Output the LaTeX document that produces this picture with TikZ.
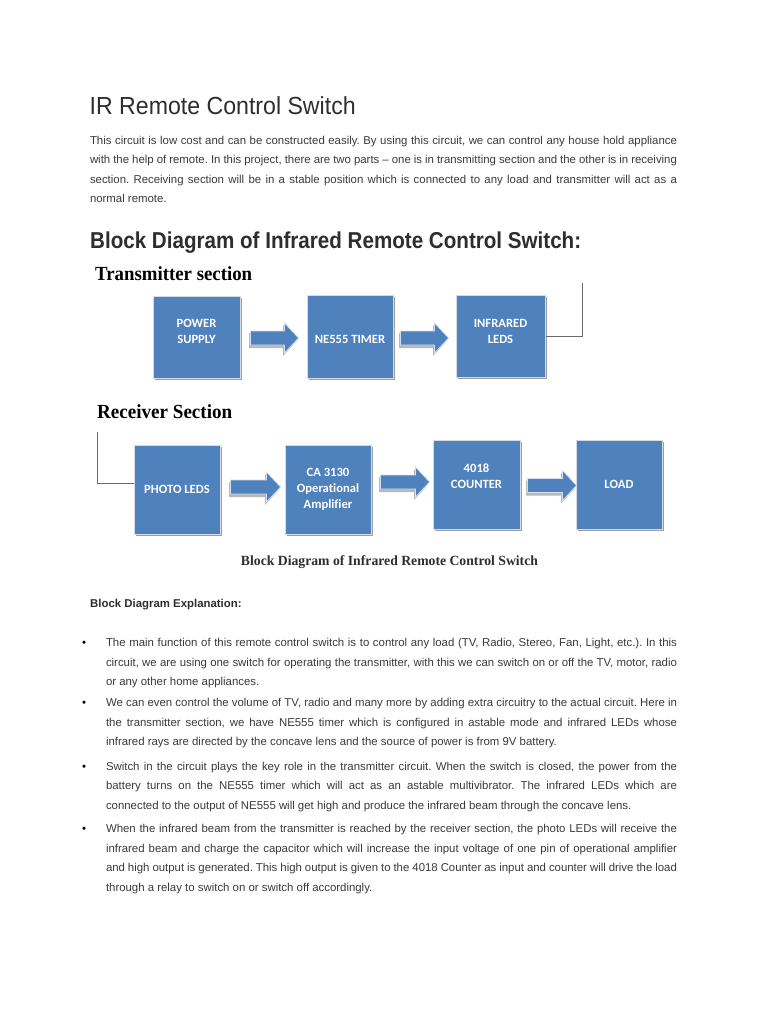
\documentclass[tikz,border=0pt]{standalone}
\usepackage{fontspec}
\usepackage{graphicx}
\setmainfont{Liberation Sans}
\newfontfamily\serifb{Liberation Serif}
\newfontfamily\calib{Carlito}[Ligatures=NoCommon]
\usetikzlibrary{calc,shadows}
\definecolor{boxblue}{HTML}{4F81BD}
\definecolor{boxedge}{HTML}{D5DCE6}
\definecolor{txt}{HTML}{3A3A3A}
\definecolor{ttl}{HTML}{2E2E2E}
\definecolor{wirec}{HTML}{6A6A6A}
\frenchspacing
\tikzset{
  tline/.style={anchor=base west, inner sep=0pt, outer sep=0pt, text=txt, font=\fontsize{11.4}{13}\selectfont},
  blk/.style={rectangle, fill=boxblue, draw=boxedge, line width=1pt, inner sep=0pt,
    drop shadow={shadow xshift=2.2pt, shadow yshift=-2.2pt, fill=black!38, opacity=1}},
  blktext/.style={text=white, font=\calib\bfseries\fontsize{12.6}{16}\selectfont, align=center, inner sep=0pt},
  wire/.style={draw=wirec, line width=0.8pt},
  barrow/.style={fill=boxblue, draw=white!75!boxblue, line width=0.7pt, line join=miter},
  barrowsh/.style={fill=black!28, draw=none},
}
% justified line: name, x, baseline, text
\newcommand\jline[4]{\node[tline] (#1) at (#2,#3) {\frenchspacing\makebox[\dimexpr677pt-#2pt\relax][s]{#4}};}
% ragged last line
\newcommand\rline[4]{\node[tline] (#1) at (#2,#3) {\frenchspacing #4};}
% block arrow: from, to, start gap, tip gap, dy
\newcommand\barr[5]{%
  \fill[barrowsh] let \p1=($(#1.east)+(#3,#5)$), \p2=($(#2.west)+(-#4,#5)$) in
    (\x1-1.5pt,\y1+5pt) -- (\x2-15.5pt,\y1+5pt) -- (\x2-15.5pt,\y1+13pt) -- (\x2-1.5pt,\y1-2.5pt) -- (\x2-15.5pt,\y1-18pt) -- (\x2-15.5pt,\y1-10pt) -- (\x1-1.5pt,\y1-10pt) -- cycle;
  \draw[barrow] let \p1=($(#1.east)+(#3,#5)$), \p2=($(#2.west)+(-#4,#5)$) in
    (\x1,\y1+7pt) -- (\x2-14pt,\y1+7pt) -- (\x2-14pt,\y1+15pt) -- (\x2,\y1) -- (\x2-14pt,\y1-15pt) -- (\x2-14pt,\y1-7pt) -- (\x1,\y1-7pt) -- cycle;}
\begin{document}
\begin{tikzpicture}[x=1pt,y=-1pt]
\useasboundingbox (0,0) rectangle (768,1024);
\fill[white] (0,0) rectangle (768,1024);

% title and intro
\node[anchor=base west, inner sep=0pt, text=ttl] (title) at (89.5,115)
  {\resizebox{266pt}{\height}{\fontsize{24.7}{28}\selectfont IR Remote Control Switch}};
\jline{p1}{90}{144.5}{This circuit is low cost and can be constructed easily. By using this circuit, we can control any house hold appliance}
\jline{p2}{90}{163.9}{with the help of remote. In this project, there are two parts -- one is in transmitting section and the other is in receiving}
\jline{p3}{90}{183.3}{section. Receiving section will be in a stable position which is connected to any load and transmitter will act as a}
\rline{p4}{90}{202.7}{normal remote.}

\node[anchor=base west, inner sep=0pt, text=ttl] (head) at (90,248)
  {\resizebox{491pt}{\height}{\bfseries\fontsize{23}{26}\selectfont Block Diagram of Infrared Remote Control Switch:}};

% diagram: transmitter
\node[anchor=base west, inner sep=0pt, text=black] (txsec) at (95,280)
  {\resizebox{157pt}{\height}{\serifb\bfseries\fontsize{20}{24}\selectfont Transmitter section}};
\node[blk, minimum width=87pt, minimum height=82pt] (pw) at (196.5,337) {};
\node[blk, minimum width=86pt, minimum height=83pt] (ne) at (350,336.5) {};
\node[blk, minimum width=89pt, minimum height=82pt] (ir) at (500.5,336) {};
\node[blktext] (pwt) at ($(pw.center)+(0,-5.5)$) {POWER\\SUPPLY};
\node[blktext] (net) at ($(ne.center)+(0,2.5)$) {NE555 TIMER};
\node[blktext] (irt) at ($(ir.center)+(0,-5)$) {INFRARED\\LEDS};
\barr{pw}{ne}{10}{8}{1}
\barr{ne}{ir}{7}{7}{1.5}
\coordinate (irtop) at (582,283);
\draw[wire] (ir.east) -| (irtop);

% diagram: receiver
\node[anchor=base west, inner sep=0pt, text=black] (rxsec) at (97,418)
  {\resizebox{135pt}{\height}{\serifb\bfseries\fontsize{20}{24}\selectfont Receiver Section}};
\node[blk, minimum width=86pt, minimum height=89pt] (ph) at (177,489.5) {};
\node[blk, minimum width=86pt, minimum height=89pt] (ca) at (328,489.5) {};
\node[blk, minimum width=87pt, minimum height=89pt] (ct) at (476.5,484.5) {};
\node[blk, minimum width=86pt, minimum height=89pt] (ld) at (619,484.5) {};
\node[blktext] (pht) at (ph.center) {PHOTO LEDS};
\node[blktext] (cat) at (ca.center) {CA 3130\\Operational\\Amplifier};
\node[blktext] (ctt) at ($(ct.center)+(0,-8.5)$) {4018\\COUNTER};
\node[blktext] (ldt) at (ld.center) {LOAD};
\barr{ph}{ca}{10}{4}{-2.5}
\barr{ca}{ct}{9}{3}{-7.5}
\barr{ct}{ld}{7}{-1}{1}
\coordinate (phtop) at (97,432);
\draw[wire] (phtop) |- ([yshift=6.5pt]ph.west);

\node[anchor=base, inner sep=0pt, text=ttl] (cap) at (389.5,565)
  {\resizebox{297pt}{\height}{\serifb\bfseries\fontsize{14}{16}\selectfont Block Diagram of Infrared Remote Control Switch}};

% explanation
\node[anchor=base west, inner sep=0pt, text=ttl] (expl) at (90,607)
  {\bfseries\fontsize{11.4}{13}\selectfont Block Diagram Explanation:};

\node[tline, text=black] (bu1) at (82,646.5) {\textbullet};
\jline{b11}{106}{646.5}{The main function of this remote control switch is to control any load (TV, Radio, Stereo, Fan, Light, etc.). In this}
\jline{b12}{106}{666}{circuit, we are using one switch for operating the transmitter, with this we can switch on or off the TV, motor, radio}
\rline{b13}{106}{685.5}{or any other home appliances.}

\node[tline, text=black] (bu2) at (82,706.5) {\textbullet};
\jline{b21}{106}{706.5}{We can even control the volume of TV, radio and many more by adding extra circuitry to the actual circuit. Here in}
\jline{b22}{106}{726}{the transmitter section, we have NE555 timer which is configured in astable mode and infrared LEDs whose}
\rline{b23}{106}{745.5}{infrared rays are directed by the concave lens and the source of power is from 9V battery.}

\node[tline, text=black] (bu3) at (82,770) {\textbullet};
\jline{b31}{106}{770}{Switch in the circuit plays the key role in the transmitter circuit. When the switch is closed, the power from the}
\jline{b32}{106}{789.5}{battery turns on the NE555 timer which will act as an astable multivibrator. The infrared LEDs which are}
\rline{b33}{106}{809}{connected to the output of NE555 will get high and produce the infrared beam through the concave lens.}

\node[tline, text=black] (bu4) at (82,832.5) {\textbullet};
\jline{b41}{106}{832.5}{When the infrared beam from the transmitter is reached by the receiver section, the photo LEDs will receive the}
\jline{b42}{106}{852}{infrared beam and charge the capacitor which will increase the input voltage of one pin of operational amplifier}
\jline{b43}{106}{871.5}{and high output is generated. This high output is given to the 4018 Counter as input and counter will drive the load}
\rline{b44}{106}{891}{through a relay to switch on or switch off accordingly.}
\end{tikzpicture}
\end{document}
